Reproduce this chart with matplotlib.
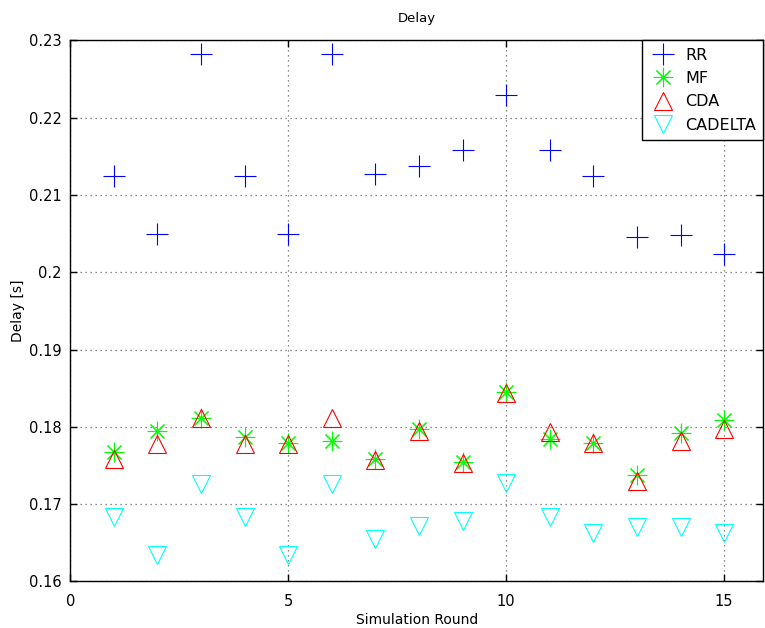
import matplotlib
matplotlib.use('Agg')
import matplotlib.pyplot as plt

# simulation rounds and mean delay per scheduler
rounds = list(range(1, 16))
rr = [0.2124, 0.2049, 0.2282, 0.2124, 0.2049, 0.2282, 0.2127, 0.2138, 0.2158,
      0.2229, 0.2158, 0.2124, 0.2046, 0.2048, 0.2023]
mf = [0.1768, 0.1794, 0.1811, 0.1787, 0.1779, 0.1781, 0.1758, 0.1797, 0.1754,
      0.1845, 0.1784, 0.1779, 0.1738, 0.1792, 0.1809]
cda = [0.1758, 0.1778, 0.1811, 0.1778, 0.1778, 0.1811, 0.1757, 0.1795, 0.1753,
       0.1844, 0.1793, 0.1779, 0.1730, 0.1782, 0.1797]
cadelta = [0.1683, 0.1634, 0.1726, 0.1683, 0.1634, 0.1726, 0.1655, 0.1672, 0.1678,
           0.1727, 0.1683, 0.1663, 0.1670, 0.1671, 0.1662]

plt.rcParams['font.family'] = 'DejaVu Sans'
fig = plt.figure(figsize=(7.65, 6.28), dpi=100)
ax = fig.add_axes([0.0919, 0.0742, 0.9059, 0.8616])

ax.plot(rounds, rr, linestyle='none', marker='+', ms=16, mew=0.8, color='#0000ff', label='RR')
ax.plot(rounds, mf, linestyle='none', marker=(8, 2, 0), ms=14, mew=0.8, color='#00ff00', label='MF')
ax.plot(rounds, cda, linestyle='none', marker='^', ms=13, mew=0.8, mfc='none', color='#ff0000', label='CDA')
ax.plot(rounds, cadelta, linestyle='none', marker='v', ms=13, mew=0.8, mfc='none', color='#00ffff', label='CADELTA')

ax.set_xlim(0, 15.9)
ax.set_ylim(0.16, 0.23)
ax.set_xticks([0, 5, 10, 15])
ax.set_yticks([0.16, 0.17, 0.18, 0.19, 0.2, 0.21, 0.22, 0.23])
ax.set_yticklabels(['0.16', '0.17', '0.18', '0.19', '0.2', '0.21', '0.22', '0.23'])
ax.tick_params(direction='in', length=5, width=1, top=True, right=True, labelsize=10.5)
ax.tick_params(axis='x', pad=9)
ax.tick_params(axis='y', pad=6)
ax.grid(True, linestyle=(0, (1, 3)), color='#666666', linewidth=0.9)
for s in ax.spines.values():
    s.set_linewidth(1.0)

ax.set_title('Delay', fontsize=9.5, pad=13)
ax.set_xlabel('Simulation Round', fontsize=10, labelpad=3)
ax.set_ylabel('Delay [s]', fontsize=10)
ax.yaxis.set_label_coords(-0.065, 0.5)

leg = ax.legend(loc='upper right', borderaxespad=0, fancybox=False, framealpha=1,
                edgecolor='black', fontsize=11.5, handletextpad=0.5, borderpad=0.46,
                labelspacing=0.52, handlelength=1.75)
leg.get_frame().set_linewidth(1.0)

plt.savefig('out.png', dpi=100)
